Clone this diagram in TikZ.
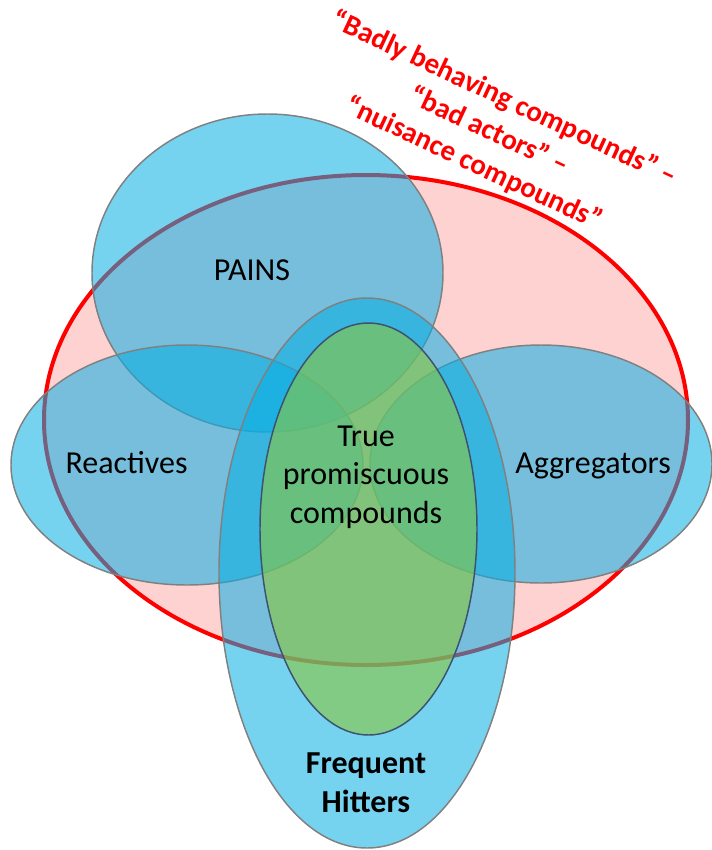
\documentclass[tikz,border=0pt]{standalone}
\usepackage{fontspec}
\setmainfont{Carlito}
\definecolor{setblue}{RGB}{6,175,228}
\definecolor{setgreen}{RGB}{138,199,62}
\definecolor{nuisancefill}{RGB}{255,210,210}
\definecolor{outlinegray}{RGB}{128,128,128}
\definecolor{greenedge}{RGB}{60,82,112}
\definecolor{alertred}{RGB}{255,0,0}
\begin{document}
\begin{tikzpicture}[x=0.75pt,y=-0.75pt,
  blueset/.style={fill=setblue,fill opacity=0.55,draw=outlinegray,line width=1.1pt},
  greenset/.style={fill=setgreen,fill opacity=0.6,draw=greenedge,line width=1.1pt},
  nuisanceset/.style={fill=nuisancefill,draw=alertred,line width=3pt},
  setname/.style={inner sep=0pt,align=center,text=black,
    font=\fontsize{24pt}{29pt}\selectfont},
  boldname/.style={setname,font=\fontsize{24pt}{29.5pt}\selectfont\bfseries},
  redname/.style={inner sep=0pt,align=center,text=alertred,rotate=-25,
    font=\fontsize{21.75pt}{27pt}\selectfont\bfseries}]
\useasboundingbox (0,0) rectangle (711,850);

% outer set: badly behaving compounds
\path[nuisanceset] (366,420) ellipse [x radius=322, y radius=245];

% overlapping blue sets
\path[blueset] (267.5,273) ellipse [x radius=175.5, y radius=159];
\path[blueset] (187,465) ellipse [x radius=176, y radius=120];
\path[blueset] (541,464) ellipse [x radius=171, y radius=119];
\path[blueset] (367,573) ellipse [x radius=148, y radius=275];

% core set
\path[greenset] (368.5,529) ellipse [x radius=108.5, y radius=206];

% labels
\node[setname, anchor=base] (pains) at (252,280) {PAINS};
\node[setname, anchor=base] (reactives) at (126.5,473) {Reactives};
\node[setname, anchor=base] (aggregators) at (593,473) {Aggregators};
\node[setname] (promiscuous) at (366,477) {True\\promiscuous\\compounds};
\node[boldname] (hitters) at (366,783) {Frequent\\Hitters};
\node[redname] (badactors) at (489,131)
  {“Badly behaving compounds” –\\“bad actors” –\\“nuisance compounds”};
\end{tikzpicture}
\end{document}
